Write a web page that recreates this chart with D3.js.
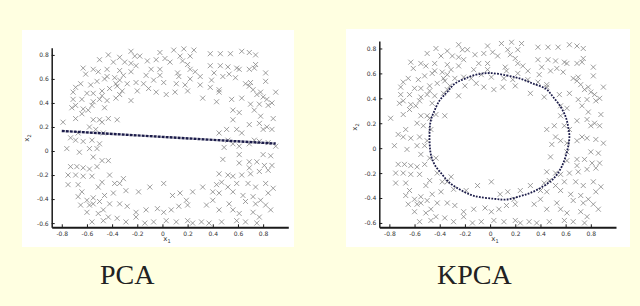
<!DOCTYPE html>
<html>
<head>
<meta charset="utf-8">
<script src="https://cdn.jsdelivr.net/npm/d3@7"></script>
<style>
  body { margin: 0; background: #ffffe1; }
  svg { display: block; }
  .tick text { font-family: "DejaVu Sans", sans-serif; font-size: 6px; fill: #333; }
</style>
</head>
<body>
<svg id="chart" width="640" height="306"></svg>
<script>
// ring of samples (x1, x2), same set in both panels
const points = [
  [-0.25,0.83],[-0.18,0.79],[-0.02,0.82],[0.09,0.84],[0.17,0.85],[0.25,0.84],[0.38,0.81],[0.46,0.81],
  [0.54,0.81],[0.63,0.83],[0.69,0.82],[0.74,0.80],[-0.43,0.80],[-0.34,0.78],[-0.22,0.79],[-0.05,0.76],
  [0.02,0.77],[0.14,0.79],[0.22,0.79],[-0.50,0.76],[-0.39,0.74],[-0.30,0.74],[-0.25,0.73],[-0.21,0.71],
  [-0.12,0.75],[0.06,0.74],[0.16,0.75],[0.20,0.72],[0.38,0.71],[0.46,0.71],[0.52,0.70],[0.59,0.69],
  [0.74,0.72],[-0.63,0.69],[-0.55,0.68],[-0.51,0.66],[-0.44,0.68],[-0.34,0.67],[-0.09,0.68],[-0.02,0.68],
  [0.12,0.65],[0.22,0.68],[0.26,0.66],[0.30,0.62],[0.41,0.65],[0.53,0.64],[0.61,0.68],[0.69,0.68],
  [0.73,0.69],[-0.61,0.64],[-0.38,0.61],[-0.31,0.63],[-0.25,0.66],[-0.13,0.63],[-0.02,0.63],[0.13,0.62],
  [0.82,0.65],[-0.44,0.62],[-0.46,0.60],[-0.34,0.59],[0.01,0.57],[0.22,0.60],[0.39,0.59],[0.48,0.62],
  [0.58,0.61],[0.70,0.57],[0.82,0.58],[-0.65,0.56],[-0.69,0.53],[-0.57,0.55],[-0.52,0.58],[-0.37,0.56],
  [-0.21,0.57],[-0.15,0.56],[-0.07,0.59],[0.11,0.56],[0.18,0.55],[0.30,0.55],[0.66,0.56],[0.69,0.54],
  [-0.28,0.56],[-0.36,0.54],[0.38,0.53],[0.45,0.51],[0.45,0.49],[-0.71,0.49],[-0.55,0.48],[-0.48,0.50],
  [-0.42,0.52],[-0.32,0.50],[-0.20,0.50],[-0.11,0.52],[-0.05,0.49],[0.03,0.47],[0.10,0.49],[0.20,0.50],
  [0.72,0.51],[0.75,0.47],[0.78,0.49],[0.90,0.49],[-0.60,0.48],[-0.34,0.47],[-0.48,0.46],[0.80,0.45],
  [0.32,0.44],[0.43,0.41],[0.55,0.43],[0.63,0.44],[-0.71,0.43],[-0.64,0.43],[-0.55,0.41],[-0.50,0.43],
  [-0.44,0.42],[-0.37,0.44],[-0.25,0.42],[-0.72,0.36],[-0.69,0.38],[-0.63,0.35],[-0.56,0.38],[-0.46,0.36],
  [0.83,0.43],[0.84,0.38],[0.77,0.39],[0.87,0.40],[0.70,0.39],[0.73,0.34],[0.56,0.34],[0.61,0.32],
  [-0.79,0.24],[-0.69,0.27],[-0.64,0.31],[-0.59,0.34],[-0.55,0.26],[-0.50,0.26],[-0.48,0.24],[-0.43,0.27],
  [-0.36,0.26],[-0.67,0.15],[-0.53,0.18],[-0.58,0.20],[-0.47,0.15],[-0.73,0.11],[-0.76,0.02],[-0.69,0.09],
  [-0.63,0.08],[-0.56,0.09],[-0.50,0.06],[-0.58,0.02],[-0.52,0.02],[-0.66,-0.01],[-0.55,-0.05],[-0.48,-0.08],
  [-0.43,-0.08],[-0.73,-0.13],[-0.68,-0.13],[-0.63,-0.14],[-0.58,-0.15],[-0.52,-0.13],[-0.75,-0.20],[-0.69,-0.20],
  [-0.63,-0.21],[-0.56,-0.21],[-0.42,-0.20],[-0.31,-0.23],
  [0.88,0.27],[0.78,0.29],[0.77,0.23],[0.83,0.20],[0.56,0.26],[0.69,0.22],[0.51,0.18],[0.59,0.18],
  [0.63,0.15],[0.80,0.18],[0.87,0.18],[0.73,0.09],[0.45,0.15],[0.52,0.09],[0.49,0.03],[0.56,0.06],
  [0.61,0.04],[0.69,0.06],[0.77,0.08],[0.84,0.07],[0.90,0.04],[0.80,-0.03],[0.86,-0.04],[0.61,-0.03],
  [0.69,-0.09],[0.75,-0.09],[0.81,-0.12],[0.87,-0.12],[0.48,-0.07],[0.61,-0.10],[0.69,-0.14],[0.45,-0.19],
  [0.52,-0.20],[0.56,-0.21],[0.63,-0.20],[0.70,-0.19],[0.77,-0.17],[0.84,-0.16],
  [0.47,-0.26],[0.43,-0.28],[0.52,-0.30],[0.59,-0.27],[0.68,-0.27],[0.74,-0.30],[0.82,-0.27],[0.88,-0.31],
  [0.45,-0.35],[0.56,-0.34],[0.64,-0.37],[0.72,-0.38],[0.78,-0.41],[0.84,-0.35],[0.40,-0.41],[0.53,-0.44],
  [0.66,-0.42],[0.74,-0.44],[0.82,-0.45],[0.45,-0.49],[0.56,-0.49],[0.61,-0.52],[0.72,-0.51],[0.77,-0.55],
  [0.86,-0.49],[0.47,-0.59],[0.59,-0.58],[0.66,-0.59],[0.75,-0.60],
  [-0.10,-0.30],[-0.19,-0.34],[-0.29,-0.33],[-0.34,-0.27],[0.01,-0.27],[0.08,-0.37],[0.14,-0.35],[0.19,-0.41],
  [0.24,-0.34],[0.32,-0.30],[0.40,-0.34],[0.35,-0.45],[0.20,-0.45],[0.13,-0.46],[0.07,-0.49],[0.01,-0.51],
  [-0.04,-0.48],[-0.13,-0.49],[-0.21,-0.51],[-0.28,-0.46],[-0.34,-0.44],[0.03,-0.58],[0.11,-0.59],[0.20,-0.58],
  [0.24,-0.60],[0.31,-0.59],[0.37,-0.60],[-0.07,-0.59],[-0.14,-0.60],[-0.21,-0.55],[-0.29,-0.59],[-0.36,-0.56],
  [-0.43,-0.55],[-0.47,-0.49],[-0.42,-0.44],[-0.50,-0.42],[-0.55,-0.39],[-0.46,-0.37],[-0.39,-0.35],[-0.51,-0.30],
  [-0.48,-0.26],[-0.38,-0.27],[-0.67,-0.28],[-0.64,-0.34],[-0.67,-0.38],[-0.60,-0.41],[-0.58,-0.45],[-0.60,-0.51],
  [-0.51,-0.52],[-0.56,-0.59],[-0.47,-0.58],[-0.75,-0.28],[-0.65,-0.45],[-0.55,-0.44]
];

// PCA: projection onto the first component (a straight line)
const pcaLine = [[-0.8, 0.167], [0.9, 0.062]];

// KPCA: projection traced as a closed curve
const kpcaCurve = [
  [0.00,0.603],[0.13,0.584],[0.24,0.558],[0.34,0.518],[0.44,0.478],[0.50,0.412],[0.56,0.332],[0.60,0.252],
  [0.62,0.173],[0.63,0.093],[0.62,0.013],[0.60,-0.066],[0.57,-0.146],[0.53,-0.212],[0.48,-0.266],[0.40,-0.319],
  [0.32,-0.359],[0.24,-0.385],[0.13,-0.412],[0.03,-0.406],[-0.08,-0.393],[-0.16,-0.372],[-0.24,-0.332],[-0.32,-0.279],
  [-0.38,-0.212],[-0.44,-0.133],[-0.47,-0.053],[-0.48,0.040],[-0.48,0.146],[-0.47,0.226],[-0.44,0.305],[-0.40,0.385],
  [-0.34,0.452],[-0.28,0.518],[-0.20,0.558],[-0.11,0.590]
];

const xTicks = [-0.8, -0.6, -0.4, -0.2, 0, 0.2, 0.4, 0.6, 0.8];
const yTicks = [-0.6, -0.4, -0.2, 0, 0.2, 0.4, 0.6, 0.8];
const xDomain = [-0.88, 1.0];
const yDomain = [-0.635, 0.86];

const panels = [
  {name: "PCA", box: [22, 30, 272, 217], x: [51.7, 288.3], y: [227.3, 47.7], x2: [29, 138], x1: [167, 241], titleX: 100, proj: "line"},
  {name: "KPCA", box: [346, 29, 284, 218], x: [379.3, 616], y: [227.3, 41], x2: [357, 127], x1: [495, 241], titleX: 437, proj: "curve"}
];

const svg = d3.select("#chart");
const fmt = d => d === 0 ? "0" : d3.format(".1f")(d).replace("\u2212", "-");

panels.forEach(p => {
  svg.append("rect")
      .attr("x", p.box[0]).attr("y", p.box[1])
      .attr("width", p.box[2]).attr("height", p.box[3])
      .attr("fill", "#fff");

  const x = d3.scaleLinear().domain(xDomain).range(p.x);
  const y = d3.scaleLinear().domain(yDomain).range(p.y);
  const g = svg.append("g");

  // crosses
  const s = 2.5;
  g.append("g").selectAll("path")
      .data(points)
      .enter().append("path")
      .attr("d", d => {
        const cx = x(d[0]), cy = y(d[1]);
        return `M${cx - s},${cy - s}L${cx + s},${cy + s}M${cx - s},${cy + s}L${cx + s},${cy - s}`;
      })
      .attr("stroke", "#858585")
      .attr("stroke-width", 0.8)
      .attr("fill", "none");

  // projections
  if (p.proj === "line") {
    g.append("path")
        .attr("d", d3.line().x(d => x(d[0])).y(d => y(d[1]))(pcaLine))
        .attr("stroke", "#1c1c4a")
        .attr("stroke-width", 2.4)
        .attr("stroke-dasharray", "3,1")
        .attr("fill", "none");
  } else {
    g.append("path")
        .attr("d", d3.line().x(d => x(d[0])).y(d => y(d[1])).curve(d3.curveCardinalClosed)(kpcaCurve))
        .attr("stroke", "#1c1c4a")
        .attr("stroke-width", 1.8)
        .attr("stroke-dasharray", "1.8,1.3")
        .attr("fill", "none");
  }

  // axes
  const xAxis = g.append("g")
      .attr("transform", `translate(0,${p.y[0]})`)
      .call(d3.axisBottom(x).tickValues(xTicks).tickFormat(fmt).tickSizeInner(-3).tickSizeOuter(0).tickPadding(4));
  xAxis.select(".domain").attr("stroke", "#1a1a1a").attr("stroke-width", 2);
  xAxis.selectAll(".tick line").attr("stroke", "#1a1a1a");

  const yAxis = g.append("g")
      .attr("transform", `translate(${p.x[0]},0)`)
      .call(d3.axisLeft(y).tickValues(yTicks).tickFormat(fmt).tickSizeInner(-3).tickSizeOuter(0).tickPadding(3));
  yAxis.select(".domain").attr("stroke", "#1a1a1a").attr("stroke-width", 1.5);
  yAxis.selectAll(".tick line").attr("stroke", "#1a1a1a");

  // axis labels
  const xl = g.append("text")
      .attr("x", p.x1[0]).attr("y", p.x1[1])
      .attr("text-anchor", "middle")
      .attr("font-family", "DejaVu Sans, sans-serif")
      .attr("font-size", 7).attr("fill", "#333");
  xl.append("tspan").text("x");
  xl.append("tspan").attr("font-size", 5).attr("dy", 2).text("1");

  const yl = g.append("text")
      .attr("transform", `translate(${p.x2[0]},${p.x2[1]}) rotate(-90)`)
      .attr("text-anchor", "middle")
      .attr("font-family", "DejaVu Sans, sans-serif")
      .attr("font-size", 7).attr("fill", "#333");
  yl.append("tspan").text("x");
  yl.append("tspan").attr("font-size", 5).attr("dy", 2).text("2");

  // title under the panel
  svg.append("text")
      .attr("x", p.titleX).attr("y", 283.5)
      .attr("font-family", "Liberation Serif, serif")
      .attr("font-size", 28)
      .attr("fill", "#222")
      .text(p.name);
});
</script>
</body>
</html>
